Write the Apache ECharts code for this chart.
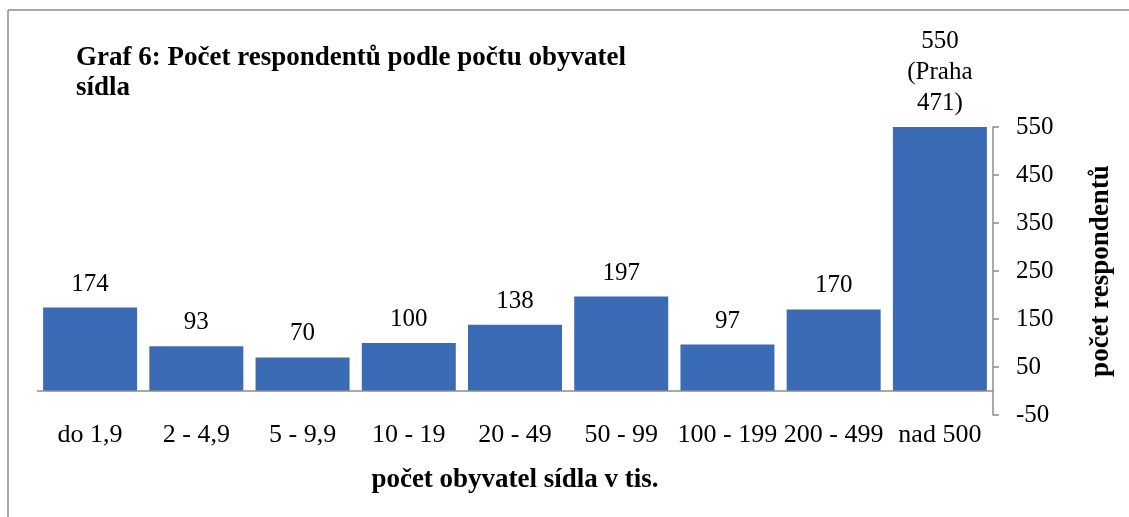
<!DOCTYPE html>
<html>
<head>
<meta charset="utf-8">
<script src="https://cdn.jsdelivr.net/npm/echarts@6/dist/echarts.min.js"></script>
<style>
  html, body { margin: 0; padding: 0; background: #fff; }
  #main { width: 1129px; height: 517px; }
</style>
</head>
<body>
<div id="main"></div>
<script>
const categories = ['do 1,9', '2 - 4,9', '5 - 9,9', '10 - 19', '20 - 49', '50 - 99', '100 - 199', '200 - 499', 'nad 500'];
const respondents = [174, 93, 70, 100, 138, 197, 97, 170, 550];
// extra text shown over the last bar
const labelNotes = ['', '', '', '', '', '', '', '', '(Praha\n471)'];

const font = '"Liberation Serif", "Times New Roman", serif';
const chart = echarts.init(document.getElementById('main'));

const option = {
  backgroundColor: '#fff',
  textStyle: { fontFamily: font },
  animation: false,
  title: {
    text: 'Graf 6: Počet respondentů podle počtu obyvatel\nsídla',
    left: 71,
    top: 38,
    textStyle: { fontFamily: font, fontSize: 27, fontWeight: 'bold', color: '#000', lineHeight: 30 }
  },
  graphic: [
    { type: 'line', shape: { x1: 8, y1: 10, x2: 1129, y2: 10 }, style: { stroke: '#8c8c8c', lineWidth: 1.5 } },
    { type: 'line', shape: { x1: 8, y1: 10, x2: 8, y2: 517 }, style: { stroke: '#8c8c8c', lineWidth: 1.5 } }
  ],
  grid: { left: 37, right: 136, top: 127, bottom: 102 },
  xAxis: {
    type: 'category',
    data: categories,
    axisLine: { show: false, onZero: false },
    axisTick: { show: false },
    axisLabel: { color: '#000', fontSize: 26, margin: 7, fontFamily: font, interval: 0 },
    name: 'počet obyvatel sídla v tis.',
    nameLocation: 'middle',
    nameGap: 52,
    nameTextStyle: { color: '#000', fontSize: 27, fontWeight: 'bold', fontFamily: font }
  },
  yAxis: {
    type: 'value',
    position: 'right',
    min: -50,
    max: 550,
    interval: 100,
    splitLine: { show: false },
    axisLine: { show: true, lineStyle: { color: '#8c8c8c', width: 1.5 } },
    axisTick: { show: true, length: 6, lineStyle: { color: '#8c8c8c', width: 1.5 } },
    axisLabel: { color: '#000', fontSize: 25, margin: 23, fontFamily: font },
    name: 'počet respondentů',
    nameLocation: 'middle',
    nameRotate: 90,
    nameGap: 95,
    nameTextStyle: { color: '#000', fontSize: 27, fontWeight: 'bold', fontFamily: font }
  },
  series: [{
    type: 'bar',
    data: respondents,
    barCategoryGap: '11.5%',
    itemStyle: { color: '#3c6bb6' },
    label: {
      show: true,
      position: 'top',
      distance: 8,
      color: '#000',
      fontSize: 25,
      lineHeight: 31,
      fontFamily: font,
      formatter: p => labelNotes[p.dataIndex] ? p.value + '\n' + labelNotes[p.dataIndex] : String(p.value)
    },
    markLine: {
      silent: true,
      symbol: 'none',
      label: { show: false },
      lineStyle: { color: '#8c8c8c', width: 1.5, type: 'solid' },
      data: [{ yAxis: 0 }]
    }
  }]
};

chart.setOption(option);
</script>
</body>
</html>
